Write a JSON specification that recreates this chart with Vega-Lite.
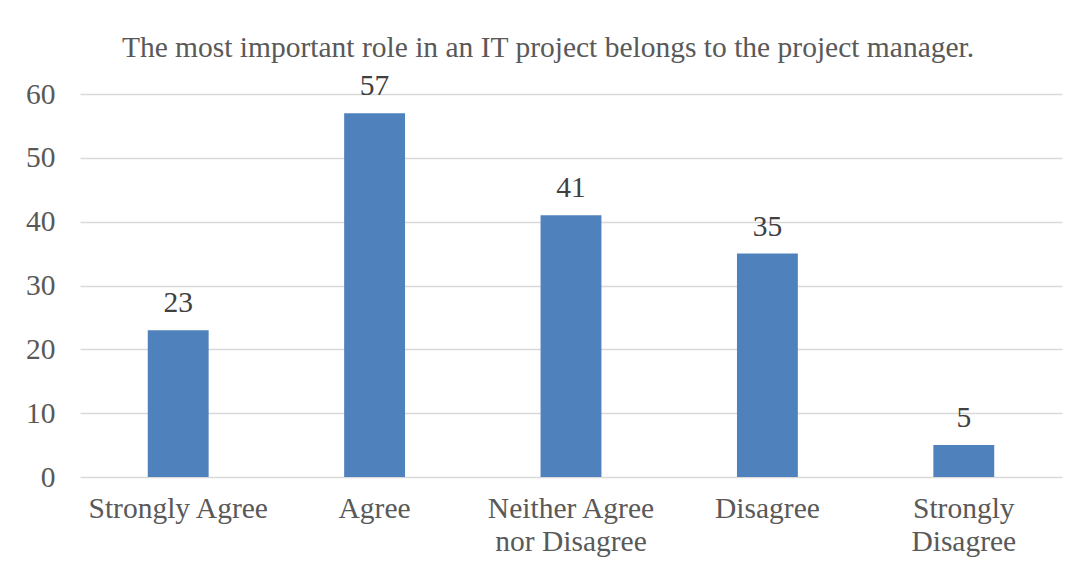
{
  "$schema": "https://vega.github.io/schema/vega-lite/v6.json",
  "width": 982,
  "height": 383,
  "autosize": {"type": "none"},
  "padding": {"left": 80, "top": 94, "right": 24, "bottom": 95},
  "background": "white",
  "title": {
    "text": "The most important role in an IT project belongs to the project manager.",
    "font": "Liberation Serif",
    "fontSize": 29.5,
    "fontWeight": "normal",
    "color": "#595959",
    "anchor": "middle",
    "dx": -23,
    "offset": 8
  },
  "data": {
    "values": [
      {"response": "Strongly Agree", "count": 23},
      {"response": "Agree", "count": 57},
      {"response": "Neither Agree nor Disagree", "count": 41},
      {"response": "Disagree", "count": 35},
      {"response": "Strongly Disagree", "count": 5}
    ]
  },
  "config": {
    "view": {"stroke": null},
    "font": "Liberation Serif"
  },
  "encoding": {
    "x": {
      "field": "response",
      "type": "nominal",
      "sort": null,
      "scale": {"paddingInner": 0.69, "paddingOuter": 0.345},
      "axis": {
        "title": null,
        "labelAngle": 0,
        "domain": false,
        "ticks": false,
        "labelFont": "Liberation Serif",
        "labelFontSize": 29.5,
        "labelColor": "#595959",
        "labelPadding": 17,
        "labelLineHeight": 33,
        "labelLimit": 500,
        "labelExpr": "datum.value == 'Neither Agree nor Disagree' ? ['Neither Agree', 'nor Disagree'] : datum.value == 'Strongly Disagree' ? ['Strongly', 'Disagree'] : datum.value"
      }
    },
    "y": {
      "field": "count",
      "type": "quantitative",
      "scale": {"domain": [0, 60]},
      "axis": {
        "title": null,
        "values": [0, 10, 20, 30, 40, 50, 60],
        "domain": false,
        "ticks": false,
        "grid": true,
        "gridColor": "#d9d9d9",
        "gridWidth": 1.3,
        "labelFont": "Liberation Serif",
        "labelFontSize": 29.5,
        "labelColor": "#595959",
        "labelPadding": 25
      }
    }
  },
  "layer": [
    {"mark": {"type": "bar", "color": "#4F81BD"}},
    {
      "mark": {"type": "text", "baseline": "alphabetic", "dy": -18, "font": "Liberation Serif", "fontSize": 29.5, "color": "#404040"},
      "encoding": {"text": {"field": "count", "type": "quantitative"}}
    }
  ]
}
